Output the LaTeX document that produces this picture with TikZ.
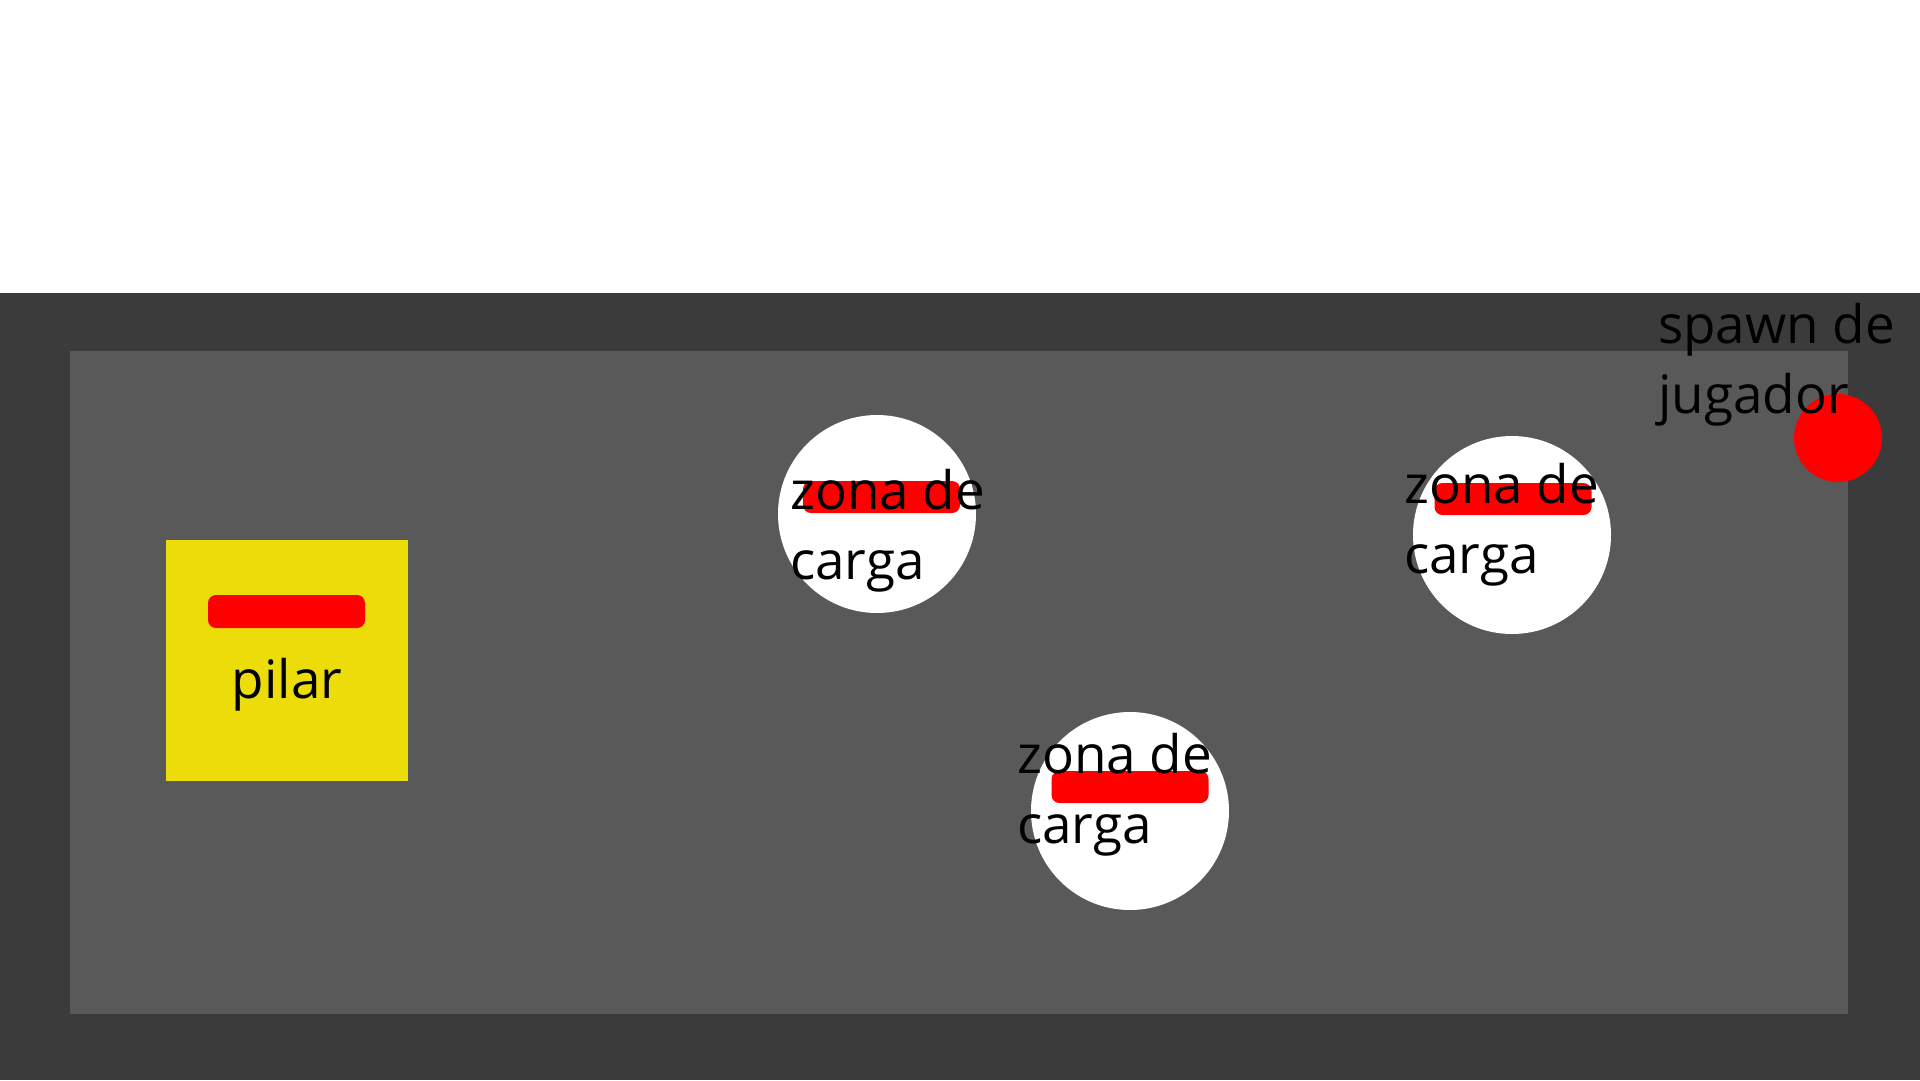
\documentclass[tikz,border=0pt]{standalone}
\usepackage{fontspec}
\setmainfont{Open Sans}
\usetikzlibrary{positioning}
\definecolor{muro}{HTML}{3B3B3B}
\definecolor{suelo}{HTML}{595959}
\definecolor{amarillo}{HTML}{ECDC0A}
\definecolor{rojo}{HTML}{FF0000}

\begin{document}
\begin{tikzpicture}[x=1pt,y=-1pt,
	zona/.style={shape=circle,fill=white,minimum size=198pt,inner sep=0pt},
	barra/.style={shape=rectangle,fill=rojo,rounded corners=8pt,minimum width=157pt,minimum height=32pt,inner sep=0pt},
	rotulo/.style={align=left,anchor=base west,inner sep=0pt,font=\fontsize{53}{70}\selectfont}]
	\useasboundingbox[fill=white] (0,0) rectangle (1920,1080);
	\fill[muro] (0,293) rectangle (1920,1080);
	\fill[suelo] (70,351) rectangle (1848,1014);

	% pilar
	\node (pilar) [shape=rectangle,fill=amarillo,minimum width=242pt,minimum height=241pt,inner sep=0pt] at (287,660.5) {};
	\node (barrapilar) [barra,minimum height=33pt] at (286.5,611.5) {};
	\node (textopilar) [rotulo,anchor=base] at (287,698) {pilar};

	% zonas de carga
	\node (zona1) [zona] at (877,514) {};
	\node (barra1) [barra] at (881.5,497) {};
	\node (texto1) [rotulo] at (790,579) {zona de\\carga};

	\node (zona2) [zona] at (1512,535) {};
	\node (barra2) [barra] at (1513,499) {};
	\node (texto2) [rotulo] at (1404,573) {zona de\\carga};

	\node (zona3) [zona] at (1130,811) {};
	\node (barra3) [barra] at (1130,787) {};
	\node (texto3) [rotulo] at (1017,843) {zona de\\carga};

	% spawn
	\node (spawn) [shape=circle,fill=rojo,minimum size=88pt,inner sep=0pt] at (1838,438) {};
	\node (textospawn) [rotulo] at (1658,413) {spawn de\\jugador};
\end{tikzpicture}
\end{document}
